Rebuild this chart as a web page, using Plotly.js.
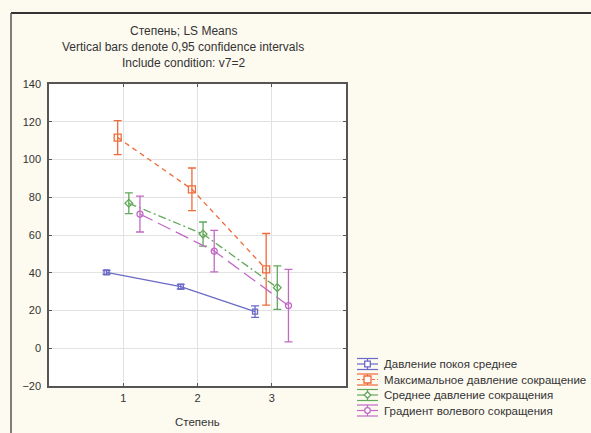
<!DOCTYPE html>
<html><head><meta charset="utf-8">
<script src="https://cdn.plot.ly/plotly-3.0.1.min.js"></script>
<style>html,body{margin:0;padding:0;background:#fdfaf0;}#chart{width:591px;height:433px;}</style>
</head><body><div id="chart"></div>
<script>
const categories = [1, 2, 3];
const seriesNames = ["Давление покоя среднее", "Максимальное давление сокращение", "Среднее давление сокращения", "Градиент волевого сокращения"];
const restMean = [40.2, 32.6, 19.4];
const restErr = [1.0, 1.2, 3.0];
const maxMean = [111.6, 84.2, 41.8];
const maxErr = [9.0, 11.3, 19.0];
const avgMean = [76.8, 60.5, 32.1];
const avgErr = [5.5, 6.4, 11.5];
const gradMean = [71.1, 51.5, 22.6];
const gradErr = [9.5, 11.0, 19.2];
const yTicks = [-20, 0, 20, 40, 60, 80, 100, 120, 140];
const titleLines = ["Степень; LS Means", "Vertical bars denote 0,95 confidence intervals", "Include condition: v7=2"];
const xTitle = "Степень";

const offsets = [-0.225, -0.075, 0.075, 0.225];
const colors = ["#6a6ac6", "#ef6a3a", "#62a85a", "#c06ac6"];
const dashes = ["solid", "5px,4px", "8px,3px,2px,3px", "14px,6px"];
const symbols = ["square-open", "square-open", "diamond-open", "circle-open"];
const means = [restMean, maxMean, avgMean, gradMean];
const errs = [restErr, maxErr, avgErr, gradErr];

const traces = means.map((m, i) => ({
  type: "scatter", mode: "lines+markers", name: seriesNames[i], showlegend: false,
  x: categories.map(c => c + offsets[i]), y: m,
  line: {color: colors[i], width: 1.3, dash: dashes[i]},
  marker: {symbol: symbols[i], size: i === 0 ? 5 : (i === 1 ? 7 : 6), color: colors[i], line: {width: 1.3, color: colors[i]}},
  error_y: {type: "data", array: errs[i], visible: true, color: colors[i], thickness: 1.3, width: 4}
}));

const L = 49, R = 245, T = 84, B = 47, W = 591, H = 433;
const pw = W - L - R, ph = H - T - B;
const xp = px => (px - L) / pw;
const yp = py => (H - B - py) / ph;

const annotations = [];
const titleY = [31, 47, 63];
titleLines.forEach((t, i) => annotations.push({
  text: t, xref: "paper", yref: "paper", x: xp(183), y: yp(titleY[i]), xanchor: "center", yanchor: "middle",
  showarrow: false, font: {size: 12, color: "#333"}
}));
annotations.push({text: xTitle, xref: "paper", yref: "paper", x: xp(197), y: yp(422), xanchor: "center", yanchor: "middle",
  showarrow: false, font: {size: 11.5, color: "#333"}});

const shapes = [
  {type: "line", xref: "paper", yref: "paper", x0: xp(11), x1: xp(591), y0: yp(13), y1: yp(13), line: {color: "#333", width: 2}},
  {type: "line", xref: "paper", yref: "paper", x0: xp(11), x1: xp(11), y0: yp(13), y1: yp(433), line: {color: "#555", width: 1.5}}
];
const legendRows = [364, 379.5, 395, 410.5];
const lx0 = 357, lx1 = 378, lxc = 367.5;
seriesNames.forEach((name, i) => {
  const y = legendRows[i], c = colors[i];
  annotations.push({text: name, xref: "paper", yref: "paper", x: xp(382), y: yp(y), xanchor: "left", yanchor: "middle",
    showarrow: false, font: {size: 11.5, color: "#333"}});
  const ln = (x0, y0, x1, y1, d) => shapes.push({type: "line", xref: "paper", yref: "paper",
    x0: xp(x0), x1: xp(x1), y0: yp(y0), y1: yp(y1), line: {color: c, width: 1.2, dash: d || "solid"}});
  ln(lx0, y - 5.5, lx1, y - 5.5);
  ln(lx0, y + 5.5, lx1, y + 5.5);
  ln(lx0, y, lx1, y, i === 1 ? "3px,2px" : "solid");
  ln(lxc, y - 5.5, lxc, y + 5.5);
  const s = i === 1 ? 3.5 : 2.8;
  if (symbols[i].startsWith("square")) {
    shapes.push({type: "rect", xref: "paper", yref: "paper", x0: xp(lxc - s), x1: xp(lxc + s), y0: yp(y - s), y1: yp(y + s),
      fillcolor: "#fff", line: {color: c, width: 1.3}});
  } else if (symbols[i].startsWith("diamond")) {
    shapes.push({type: "path", xref: "paper", yref: "paper",
      path: `M ${xp(lxc)} ${yp(y - s - 0.5)} L ${xp(lxc + s + 0.5)} ${yp(y)} L ${xp(lxc)} ${yp(y + s + 0.5)} L ${xp(lxc - s - 0.5)} ${yp(y)} Z`,
      fillcolor: "#fff", line: {color: c, width: 1.3}});
  } else {
    shapes.push({type: "circle", xref: "paper", yref: "paper", x0: xp(lxc - s), x1: xp(lxc + s), y0: yp(y - s), y1: yp(y + s),
      fillcolor: "#fff", line: {color: c, width: 1.3}});
  }
});

const layout = {
  width: W, height: H,
  paper_bgcolor: "#fdfaf0", plot_bgcolor: "#ffffff",
  margin: {l: L, r: R, t: T, b: B, autoexpand: false},
  font: {family: "Liberation Sans, Arial, sans-serif", size: 11, color: "#333"},
  showlegend: false,
  xaxis: {range: [0, 4], tickvals: categories, ticktext: categories.map(String),
    showgrid: true, gridcolor: "#e2e2e2", zeroline: false,
    showline: true, linecolor: "#555", linewidth: 1.5, mirror: "ticks",
    ticks: "inside", ticklen: 3, tickcolor: "#555", ticklabelstandoff: 1},
  yaxis: {range: [-20, 140], tickvals: yTicks, showgrid: true, gridcolor: "#e2e2e2", zeroline: false,
    showline: true, linecolor: "#555", linewidth: 1.5, mirror: "ticks",
    ticks: "inside", ticklen: 3, tickcolor: "#555", ticklabelstandoff: 4},
  annotations: annotations,
  shapes: shapes
};
Plotly.newPlot("chart", traces, layout, {displayModeBar: false});
</script></body></html>
